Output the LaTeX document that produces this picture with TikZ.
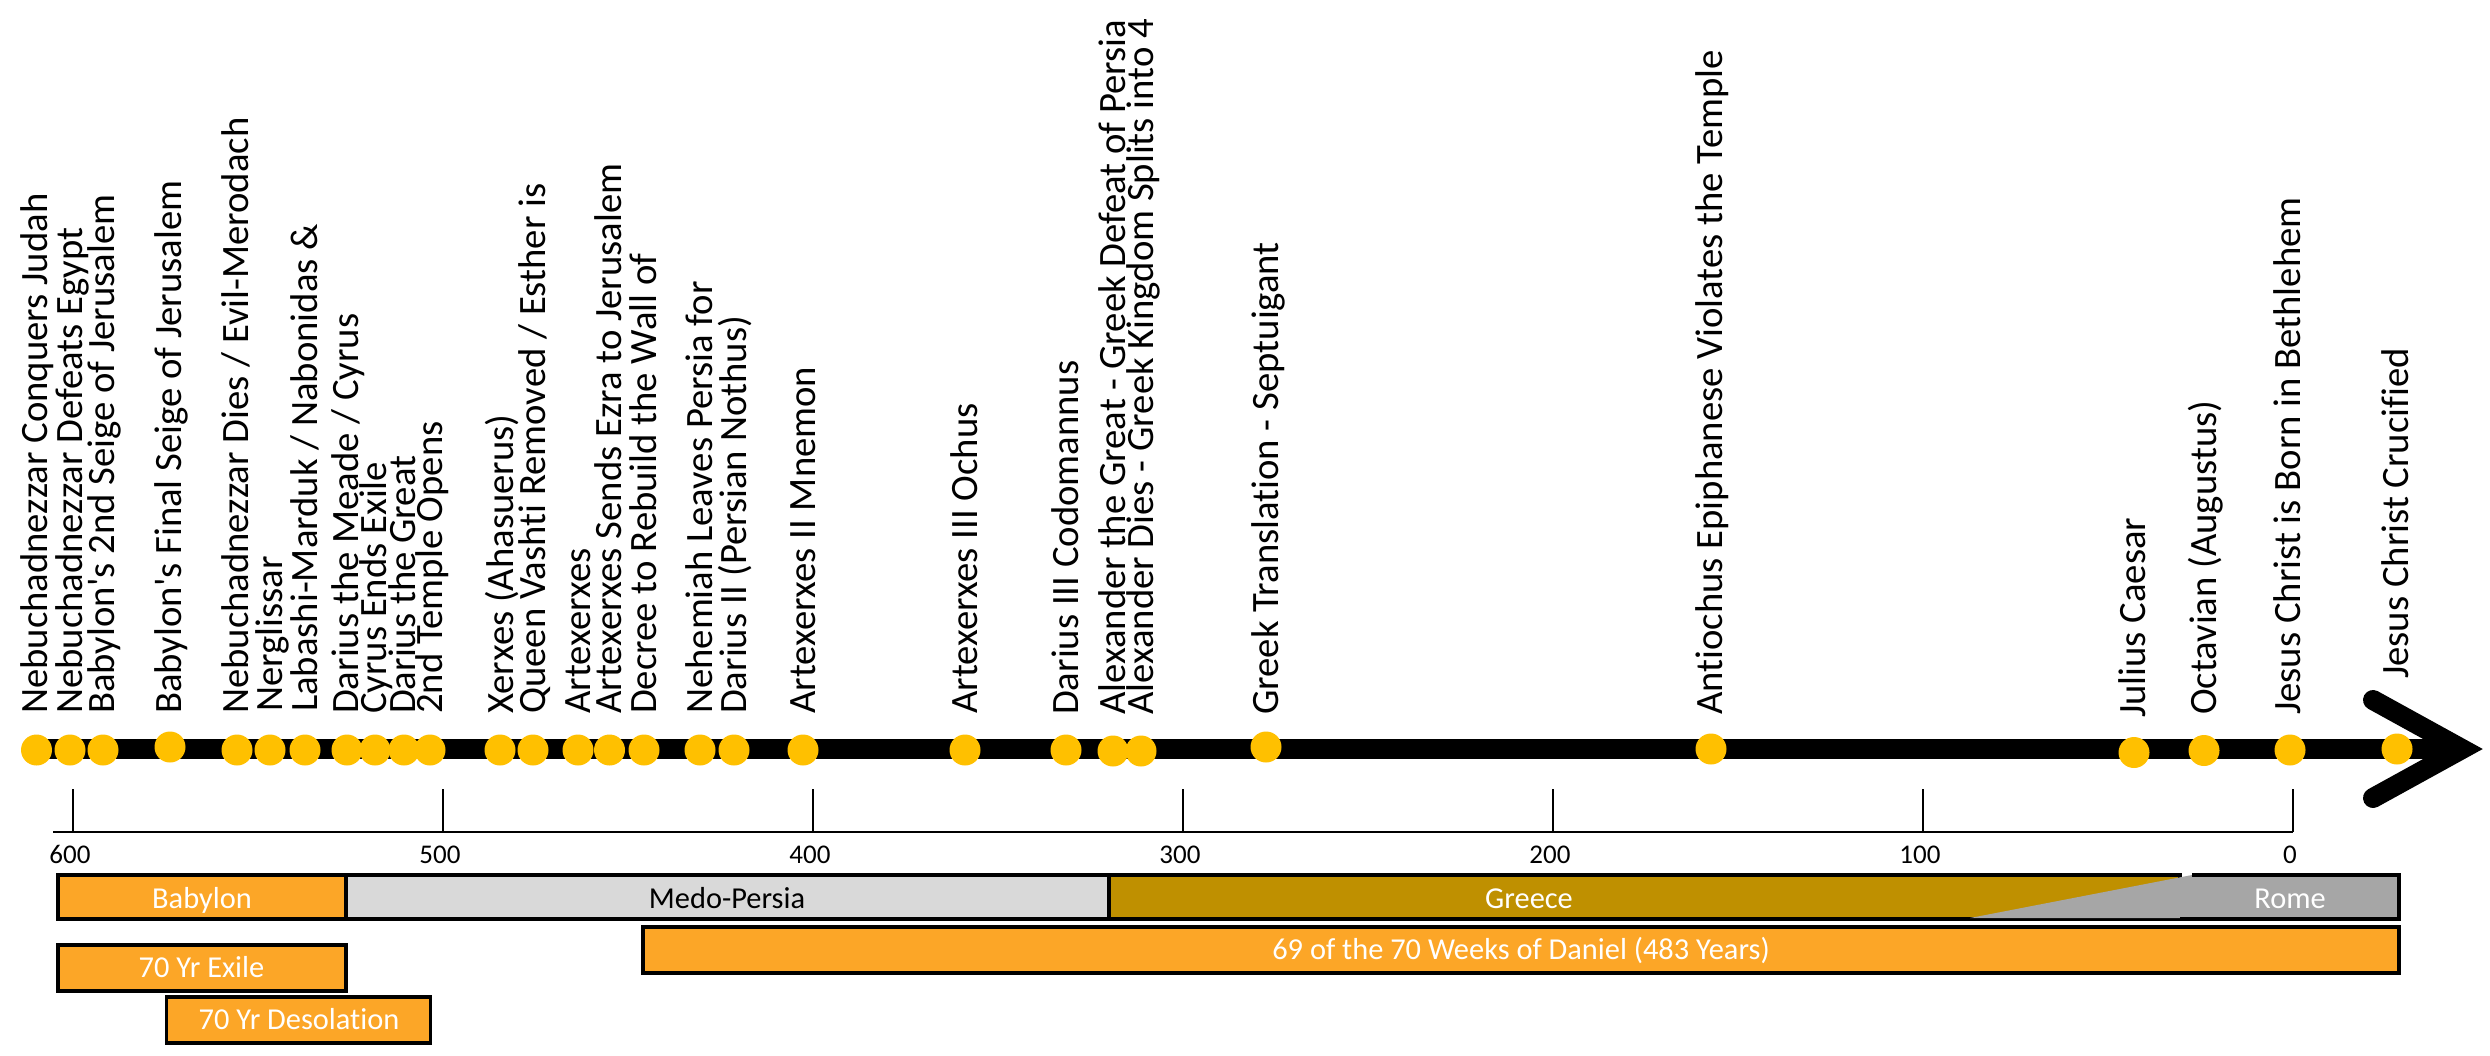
\documentclass[tikz,border=0pt]{standalone}
\usepackage{fontspec}
\newfontfamily\labfont{Carlito}[Ligatures=NoCommon]
\definecolor{dotc}{HTML}{FFC000}
\definecolor{orng}{HTML}{FCA627}
\definecolor{medo}{HTML}{D9D9D9}
\definecolor{grc}{HTML}{BF9000}
\definecolor{rom}{HTML}{A6A6A6}
\begin{document}
\begin{tikzpicture}[x=1pt,y=-1pt,
  evdot/.style={circle,fill=dotc,minimum size=31pt,inner sep=0pt},
  evlabel/.style={rotate=90,anchor=base west,inner sep=0pt,font=\labfont\fontsize{38.7}{46}\selectfont},
  ticklab/.style={anchor=base,inner sep=0pt,font=\labfont\fontsize{27}{32}\selectfont},
  bartext/.style={anchor=base,inner sep=0pt,font=\labfont\fontsize{30.4}{36}\selectfont},
  barline/.style={draw=black,line width=3.2pt},
  axisline/.style={line width=2pt},
  tickline/.style={line width=1.5pt}]
\useasboundingbox (0,0) rectangle (2490,1055);
\fill[white] (0,0) rectangle (2490,1055);

% timeline
\coordinate (tlstart) at (40,749);
\coordinate (tip) at (2462,749);
\coordinate (armA) at (2373,700);
\coordinate (armB) at (2373,798);
\draw[line width=20pt] (tlstart) -- (tip);
\draw[line width=20pt,line cap=round,line join=miter] (armA) -- (tip) -- (armB);

% dots
\node[evdot] (d1) at (36.5,750) {};
\node[evdot] (d2) at (70,750) {};
\node[evdot] (d3) at (103,750) {};
\node[evdot] (d4) at (170,747) {};
\node[evdot] (d5) at (237,750) {};
\node[evdot] (d6) at (270,750) {};
\node[evdot] (d7) at (305,750) {};
\node[evdot] (d8) at (347,750) {};
\node[evdot] (d9) at (375,750) {};
\node[evdot] (d10) at (404,750) {};
\node[evdot] (d11) at (430,750) {};
\node[evdot] (d12) at (500,750) {};
\node[evdot] (d13) at (533,750) {};
\node[evdot] (d14) at (578,750) {};
\node[evdot] (d15) at (609.5,750) {};
\node[evdot] (d16) at (644,750) {};
\node[evdot] (d17) at (700,750) {};
\node[evdot] (d18) at (734,750) {};
\node[evdot] (d19) at (803,750) {};
\node[evdot] (d20) at (965,750) {};
\node[evdot] (d21) at (1066,750) {};
\node[evdot] (d22) at (1113,751) {};
\node[evdot] (d23) at (1141,751) {};
\node[evdot] (d24) at (1266,747) {};
\node[evdot] (d25) at (1711,749) {};
\node[evdot] (d26) at (2134,752.5) {};
\node[evdot] (d27) at (2204,750.5) {};
\node[evdot] (d28) at (2290,750) {};
\node[evdot] (d29) at (2397,749) {};

% labels
\node[evlabel] (l1) at (47.5,714) {Nebuchadnezzar Conquers Judah};
\node[evlabel] (l2) at (82,714) {Nebuchadnezzar Defeats Egypt};
\node[evlabel] (l3) at (114.5,714) {Babylon's 2nd Seige of Jerusalem};
\node[evlabel] (l4) at (181,714) {Babylon's Final Seige of Jerusalem};
\node[evlabel] (l5) at (248,714) {Nebuchadnezzar Dies / Evil-Merodach};
\node[evlabel] (l6) at (282,712) {Nerglissar};
\node[evlabel] (l7) at (317,712) {Labashi-Marduk / Nabonidas \&};
\node[evlabel] (l8) at (358,714) {Darius the Meade / Cyrus};
\node[evlabel] (l9) at (386,714) {Cyrus Ends Exile};
\node[evlabel] (l10) at (415,714) {Darius the Great};
\node[evlabel] (l11) at (442,714) {2nd Temple Opens};
\node[evlabel] (l12) at (513,714) {Xerxes (Ahasuerus)};
\node[evlabel] (l13) at (545,714) {Queen Vashti Removed / Esther is};
\node[evlabel] (l14) at (590,714) {Artexerxes};
\node[evlabel] (l15) at (621,714) {Artexerxes Sends Ezra to Jerusalem};
\node[evlabel] (l16) at (656,714) {Decree to Rebuild the Wall of};
\node[evlabel] (l17) at (712,714) {Nehemiah Leaves Persia for};
\node[evlabel] (l18) at (746,714) {Darius II (Persian Nothus)};
\node[evlabel] (l19) at (815,714) {Artexerxes II Mnemon};
\node[evlabel] (l20) at (977,714) {Artexerxes III Ochus};
\node[evlabel] (l21) at (1078,715) {Darius III Codomannus};
\node[evlabel] (l22) at (1125,715) {Alexander the Great - Greek Defeat of Persia};
\node[evlabel] (l23) at (1153,715) {Alexander Dies - Greek Kingdom Splits into 4};
\node[evlabel] (l24) at (1278,715) {Greek Translation - Septuigant};
\node[evlabel] (l25) at (1722,715) {Antiochus Epiphanese Violates the Temple};
\node[evlabel] (l26) at (2145,718) {Julius Caesar};
\node[evlabel] (l27) at (2216,715) {Octavian (Augustus)};
\node[evlabel] (l28) at (2300,715) {Jesus Christ is Born in Bethlehem};
\node[evlabel] (l29) at (2408,679) {Jesus Christ Crucified};

% axis
\coordinate (axL) at (53,832);
\coordinate (axR) at (2293,832);
\draw[axisline] (axL) -- (axR);
\foreach \k/\lab in {0/600,1/500,2/400,3/300,4/200,5/100,6/0}{
  \coordinate (tk\k) at ({73+370*\k},789);
  \coordinate (tb\k) at ({73+370*\k},832);
  \draw[tickline] (tk\k) -- (tb\k);
  \node[ticklab] (tl\k) at ({70+370*\k},863) {\lab};
}

% era bars
\draw[barline,fill=medo] (346,875) rectangle (1109,919);
\draw[barline,fill=orng] (58,875) rectangle (346,919);
\draw[barline,fill=grc] (1109,875) rectangle (2180,919);
\fill[rom] (2192,875) -- (2399,875) -- (2399,918) -- (1970,918) -- cycle;
\draw[barline] (2192,875) -- (2399,875) -- (2399,919) -- (2180,919);
\node[bartext,white] (tbab) at (202,908) {Babylon};
\node[bartext,black] (tmedo) at (727,908) {Medo-Persia};
\node[bartext,white] (tgrc) at (1529,908) {Greece};
\node[bartext,white] (trom) at (2290,908) {Rome};

% period bars
\draw[barline,fill=orng] (643,927) rectangle (2399,973);
\node[bartext,white] (tweeks) at (1521,959) {69 of the 70 Weeks of Daniel (483 Years)};
\draw[barline,fill=orng] (58,945) rectangle (346,991);
\node[bartext,white] (texile) at (201.5,977) {70 Yr Exile};
\draw[barline,fill=orng] (166.5,997) rectangle (430.5,1043);
\node[bartext,white] (tdes) at (299,1029) {70 Yr Desolation};
\end{tikzpicture}
\end{document}
